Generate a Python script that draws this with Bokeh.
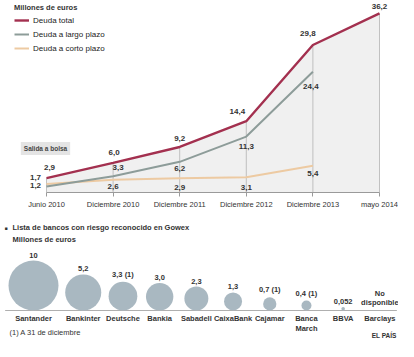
import numpy as np
from bokeh.plotting import figure
from bokeh.models import ColumnDataSource, Range1d, FixedTicker, Legend, LegendItem, Label
from bokeh.layouts import column
from bokeh.core.properties import value
from bokeh.embed import file_html
from bokeh.resources import INLINE

# ---------------- data ----------------
periods = ["Junio 2010", "Diciembre 2010", "Diciembre 2011", "Diciembre 2012",
           "Diciembre 2013", "mayo 2014"]
deuda_total = [2.9, 6.0, 9.2, 14.4, 29.8, 36.2]
deuda_largo = [1.2, 3.3, 6.2, 11.3, 24.4]
deuda_corto = [1.7, 2.6, 2.9, 3.1, 5.4]

bancos = ["Santander", "Bankinter", "Deutsche", "Bankia", "Sabadell", "CaixaBank",
          "Cajamar", "Banca\nMarch", "BBVA", "Barclays"]
riesgo = [10, 5.2, 3.3, 3.0, 2.3, 1.3, 0.7, 0.4, 0.052, None]
nota = [False, False, True, False, False, False, True, True, False, False]

# ---------------- styles ----------------
FONT = "Liberation Sans"
W = 398
C_TOTAL = "#a3304f"
C_LARGO = "#8d9c99"
C_CORTO = "#edcaa2"
C_TEXT = "#333333"
C_BUBBLE = "#a9b8c1"

total_dx = [3, 1, 0, -9, -5, 0]
total_dy = [-11, -10, -8, -10, -12, -7]
largo_dx = [-11, 5, 0, 0, -2]
largo_dy = [-1, -9, 7, 10, 15]
corto_dx = [-11, 0, 0, 0, 0]
corto_dy = [-7, 7, 9, 10, 8]


def fmt1(v):
    return f"{v:.1f}".replace(".", ",")


def fmt_bank(v):
    if v is None:
        return "No\ndisponible"
    if 0.1 <= v < 10:
        return f"{v:.1f}".replace(".", ",")
    return ("%g" % v).replace(".", ",")


# ---------------- top chart ----------------
x_idx = list(range(len(periods)))
px_per_x = 66.6
x0_px = 46
TOP_H = 211
frame_h = 194
px_per_y = 5.0

p = figure(width=W, height=TOP_H, output_backend="svg", toolbar_location=None,
           x_range=Range1d(-x0_px / px_per_x, (W - x0_px) / px_per_x),
           y_range=Range1d(0, frame_h / px_per_y),
           min_border_left=0, min_border_right=0, min_border_top=0,
           min_border_bottom=TOP_H - frame_h)
p.yaxis.visible = False
p.grid.visible = False
p.outline_line_color = None

p.varea(x=x_idx, y1=[0] * len(x_idx), y2=deuda_total, fill_color="#f0f0f0")
p.segment(x0=x_idx, y0=[0] * len(x_idx), x1=x_idx, y1=deuda_total,
          line_color="#b3b3b3", line_width=0.8)

n5 = len(deuda_largo)
r_corto = p.line(x_idx[:n5], deuda_corto, line_color=C_CORTO, line_width=2)
r_largo = p.line(x_idx[:n5], deuda_largo, line_color=C_LARGO, line_width=2)
r_total = p.line(x_idx, deuda_total, line_color=C_TOTAL, line_width=2.4)

ax = p.xaxis[0]
ax.ticker = FixedTicker(ticks=x_idx)
ax.major_label_overrides = {i: lab for i, lab in enumerate(periods)}
ax.bounds = (x_idx[0], x_idx[-1])
ax.axis_line_color = "#9a9a9a"
ax.major_tick_line_color = "#9a9a9a"
ax.major_tick_out = 4
ax.major_tick_in = 0
ax.minor_tick_line_color = None
ax.major_label_text_font = FONT
ax.major_label_text_font_size = "7.5px"
ax.major_label_text_color = C_TEXT
ax.major_label_standoff = 3

lab_kw = dict(text_align="center", text_baseline="middle", text_font=value(FONT),
              text_font_size="8px", text_font_style="bold", text_color=C_TEXT)
src_t = ColumnDataSource(dict(x=x_idx, y=deuda_total, t=[fmt1(v) for v in deuda_total],
                              dx=total_dx, dy=total_dy))
src_l = ColumnDataSource(dict(x=x_idx[:n5], y=deuda_largo, t=[fmt1(v) for v in deuda_largo],
                              dx=largo_dx, dy=largo_dy))
src_c = ColumnDataSource(dict(x=x_idx[:n5], y=deuda_corto, t=[fmt1(v) for v in deuda_corto],
                              dx=corto_dx, dy=corto_dy))
for s in (src_t, src_l, src_c):
    p.text(x="x", y="y", text="t", x_offset="dx", y_offset="dy", source=s, **lab_kw)

p.add_layout(Label(x=x_idx[0], y=8.9, x_offset=-1, text="Salida a bolsa",
                   text_align="center", text_baseline="middle",
                   text_font=FONT, text_font_size="6.5px", text_font_style="bold",
                   text_color="#444444", background_fill_color="#e4e4e4", padding=3))

legend = Legend(items=[LegendItem(label="Deuda total", renderers=[r_total]),
                       LegendItem(label="Deuda a largo plazo", renderers=[r_largo]),
                       LegendItem(label="Deuda a corto plazo", renderers=[r_corto])],
                location=(14, 137), title="Millones de euros",
                title_text_font=FONT, title_text_font_size="7.5px",
                title_text_font_style="bold", title_text_color=C_TEXT, title_standoff=1,
                label_text_font=FONT, label_text_font_size="8px", label_text_color="#222222",
                label_height=14, glyph_height=14, glyph_width=15, label_standoff=4,
                spacing=0, padding=0, margin=0, background_fill_alpha=0,
                border_line_color=None)
p.add_layout(legend)

# ---------------- bottom chart ----------------
BOT_H = 130
q = figure(width=W, height=BOT_H, output_backend="svg", toolbar_location=None,
           x_range=Range1d(0, W), y_range=Range1d(-31, BOT_H - 31), min_border=0)
q.axis.visible = False
q.grid.visible = False
q.outline_line_color = None

K = 50 / np.sqrt(10)
diam = [K * np.sqrt(v) if v is not None else 0.0 for v in riesgo]
MIN_SLOT, GAP, LEFT = 30, 6.7, 8
slot = [max(d, MIN_SLOT) for d in diam]
xs = []
for i, w in enumerate(slot):
    xs.append(LEFT + w / 2 if i == 0 else xs[-1] + slot[i - 1] / 2 + GAP + w / 2)

q.segment(x0=[xs[0] - slot[0] / 2 - GAP / 2], y0=[0], x1=[xs[-1] + slot[-1] / 2 + 2], y1=[0],
          line_color="#9a9a9a", line_width=0.8)

has = [v is not None for v in riesgo]
bub = ColumnDataSource(dict(x=[x for x, h in zip(xs, has) if h],
                            y=[d / 2 for d, h in zip(diam, has) if h],
                            s=[d for d, h in zip(diam, has) if h]))
q.scatter(x="x", y="y", size="s", marker="circle", source=bub,
          fill_color=C_BUBBLE, line_color=None)

val_labels = [fmt_bank(v) + (" (1)" if n else "") for v, n in zip(riesgo, nota)]
q.text(x=xs, y=diam, text=val_labels, y_offset=-3, text_align="center",
       text_baseline="bottom", text_font=value(FONT), text_font_size="7.5px",
       text_font_style="bold", text_color=C_TEXT, text_line_height=1.1)
q.text(x=xs, y=[0] * len(xs), text=bancos, y_offset=3, text_align="center",
       text_baseline="top", text_font=value(FONT), text_font_size="7.5px",
       text_font_style="bold", text_color=C_TEXT, text_line_height=1.2)

hdr = dict(text_font=FONT, text_color=C_TEXT, text_baseline="middle")
q.add_layout(Label(x=4, y=83, text="■", text_font_size="5px", **hdr))
q.add_layout(Label(x=12, y=83, text="Lista de bancos con riesgo reconocido en Gowex",
                   text_font_size="7.5px", text_font_style="bold", **hdr))
q.add_layout(Label(x=12, y=71, text="Millones de euros", text_font_size="7.5px",
                   text_font_style="bold", **hdr))
q.add_layout(Label(x=9, y=-22, text="(1) A 31 de diciembre", text_font_size="7.5px", **hdr))
q.add_layout(Label(x=396, y=-25, text="EL PAÍS", text_align="right",
                   text_font_size="6.5px", text_font_style="bold", text_font=FONT,
                   text_color=C_TEXT, text_baseline="middle"))

layout = column(p, q, spacing=0)
open("out.html", "w").write(file_html(layout, INLINE))
